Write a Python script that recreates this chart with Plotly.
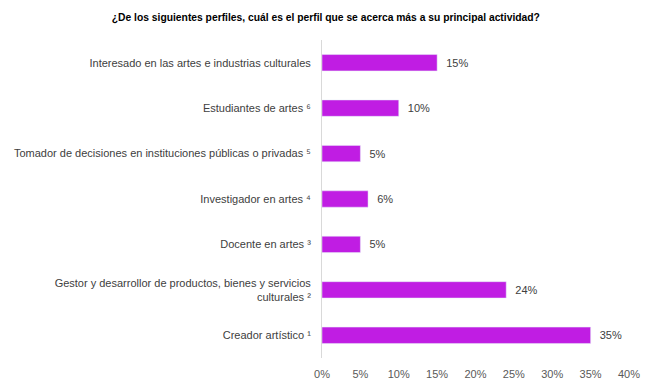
import plotly.graph_objects as go

categories = [
    "Interesado en las artes e industrias culturales",
    "Estudiantes de artes \u2076",
    "Tomador de decisiones en instituciones públicas o privadas \u2075",
    "Investigador en artes \u2074",
    "Docente en artes \u00b3",
    "Gestor y desarrollor de productos, bienes y servicios<br>culturales \u00b2",
    "Creador artístico \u00b9",
]
values = [15, 10, 5, 6, 5, 24, 35]
tick_vals = [0, 5, 10, 15, 20, 25, 30, 35, 40]
tick_text = [f"{v}%" for v in tick_vals]
title = "¿De los siguientes perfiles, cuál es el perfil que se acerca más a su principal actividad?"

fig = go.Figure(go.Bar(
    y=categories,
    x=values,
    orientation="h",
    marker=dict(color="#C01DE3"),
    text=[f"\u00a0\u00a0{v}%" for v in values],
    textposition="outside",
    textfont=dict(size=11, color="#404040", family="Liberation Sans"),
    cliponaxis=False,
))

# page body has an 8px default margin; figure sized to fit the 654x389 window
fig.update_layout(
    width=646, height=381,
    margin=dict(l=314, r=25, t=32, b=31),
    paper_bgcolor="white", plot_bgcolor="white",
    bargap=0.64,
    showlegend=False,
    title=dict(text=f"<b>{title}</b>", x=0.492, xref="container", xanchor="center",
               y=0.976, yref="container", yanchor="middle",
               font=dict(size=10.3, color="#000000", family="Liberation Sans")),
    font=dict(family="Liberation Sans", size=11, color="#404040"),
)
fig.update_xaxes(range=[0, 40], tickvals=tick_vals, ticktext=tick_text, showgrid=False,
                 zeroline=False, showline=False, ticks="", ticklabelstandoff=8,
                 automargin=False, tickfont=dict(size=11, color="#595959"))
fig.update_yaxes(categoryorder="array", categoryarray=categories[::-1], showgrid=False,
                 showline=True, linecolor="#D9D9D9", linewidth=1, ticks="", ticklabelstandoff=8,
                 automargin=False, tickfont=dict(size=11, color="#404040"))

fig.write_html("out.html")
